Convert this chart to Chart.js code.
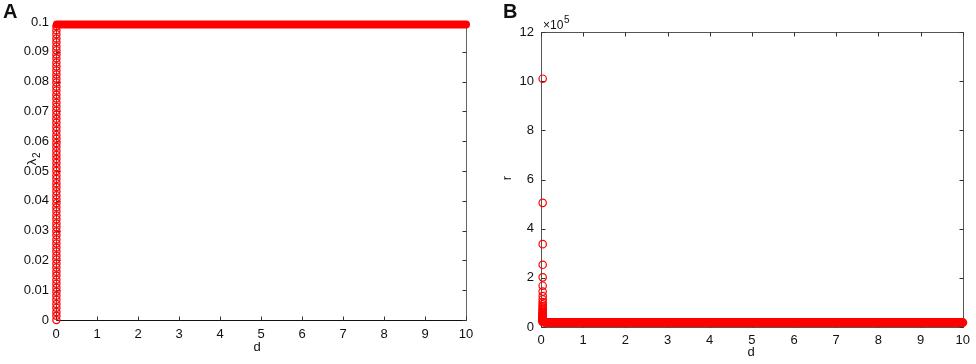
<!DOCTYPE html>
<html>
<head>
<meta charset="utf-8">
<script src="https://cdn.jsdelivr.net/npm/chart.js@4.4.1/dist/chart.umd.min.js"></script>
<style>
  html, body { margin: 0; padding: 0; background: #fff; }
  #wrap { position: relative; width: 976px; height: 364px; background: #fff; }
  canvas { position: absolute; top: 0; }
</style>
</head>
<body>
<div id="wrap">
  <canvas id="chartA" width="490" height="364" style="left:0px"></canvas>
  <canvas id="chartB" width="486" height="364" style="left:490px"></canvas>
</div>
<script>
// ---------------- DATA ----------------
// Shared x tick labels (d)
const xTickLabels = ['0','1','2','3','4','5','6','7','8','9','10'];

// Panel A: lambda_2 vs d
const yTickLabelsA = ['0','0.01','0.02','0.03','0.04','0.05','0.06','0.07','0.08','0.09','0.1'];
const stackDA = 0.01;              // d position of the stacked circles
const stackLambdaA = [
  0, 0.0014, 0.0027, 0.0041, 0.0054, 0.0068, 0.0081, 0.0095, 0.0108, 0.0122,
  0.0135, 0.0149, 0.0162, 0.0176, 0.0189, 0.0203, 0.0216, 0.0230, 0.0243, 0.0257,
  0.0270, 0.0284, 0.0297, 0.0311, 0.0324, 0.0338, 0.0351, 0.0365, 0.0378, 0.0392,
  0.0405, 0.0419, 0.0432, 0.0446, 0.0459, 0.0473, 0.0486, 0.0500, 0.0513, 0.0527,
  0.0540, 0.0554, 0.0567, 0.0581, 0.0594, 0.0608, 0.0621, 0.0635, 0.0648, 0.0662,
  0.0675, 0.0689, 0.0702, 0.0716, 0.0729, 0.0743, 0.0756, 0.0770, 0.0783, 0.0797,
  0.0810, 0.0824, 0.0837, 0.0851, 0.0864, 0.0878, 0.0891, 0.0905, 0.0918, 0.0932,
  0.0945, 0.0959, 0.0972, 0.0986
];
const plateauDA = [0.02, 10];       // dense markers along the plateau
const plateauLambdaA = [0.0992, 0.0992];

// Panel B: r (x10^5) vs d
const yTickLabelsB = ['0','2','4','6','8','10','12'];
const stackDB = 0.04;
const stackRB = [
  10.1, 5.05, 3.37, 2.53, 2.02, 1.68, 1.44, 1.26, 1.12, 1.01,
  0.92, 0.84, 0.78, 0.72, 0.67, 0.63, 0.59, 0.56, 0.53, 0.505,
  0.48, 0.46, 0.44, 0.42, 0.40, 0.39, 0.37, 0.36, 0.35, 0.34,
  0.32, 0.30, 0.28, 0.26, 0.24, 0.22, 0.20
];
const bandDB = [0.1, 10];
const bandRB = [0.18, 0.18];

// ---------------- HELPERS ----------------
const RED = '#ff0000';
const FONT = "'Liberation Sans', Arial, Helvetica, sans-serif";

function pts(xs, ys) { return ys.map((y, i) => ({ x: Array.isArray(xs) ? xs[i] : xs, y })); }

const framePlugin = {
  id: 'frame',
  beforeDatasetsDraw(chart, args, opts) {
    const { ctx, chartArea: a, scales } = chart;
    ctx.save();
    ctx.lineWidth = 1;
    const sides = opts.sides;
    const line = (x1, y1, x2, y2, c) => {
      ctx.strokeStyle = c; ctx.beginPath(); ctx.moveTo(x1, y1); ctx.lineTo(x2, y2); ctx.stroke();
    };
    const L = Math.round(a.left) + 0.5, R = Math.round(a.right) + 0.5;
    const T = Math.round(a.top) + 0.5, B = Math.round(a.bottom) + 0.5;
    if (sides.bottom) line(L, B, R, B, sides.bottom);
    if (sides.top) line(L, T, R, T, sides.top);
    if (sides.left) line(L, T, L, B, sides.left);
    if (sides.right) line(R, T, R, B, sides.right);
    const tl = opts.tickLen;
    scales.x.ticks.forEach(t => {
      const px = Math.round(scales.x.getPixelForValue(t.value)) + 0.5;
      line(px, B, px, B - tl, opts.tickColor);
      if (sides.top) line(px, T, px, T + tl, opts.tickColor);
    });
    scales.y.ticks.forEach(t => {
      const py = Math.round(scales.y.getPixelForValue(t.value)) + 0.5;
      line(L, py, L + tl, py, opts.tickColor);
      if (sides.right) line(R, py, R - tl, py, opts.tickColor);
    });
    ctx.restore();
  },
  afterDraw(chart, args, opts) {
    const { ctx } = chart;
    ctx.save();
    ctx.fillStyle = '#111';
    (opts.texts || []).forEach(t => {
      ctx.save();
      ctx.translate(t.x, t.y);
      if (t.rot) ctx.rotate(t.rot);
      ctx.font = t.font;
      ctx.textAlign = t.align || 'center';
      ctx.textBaseline = t.base || 'middle';
      ctx.fillText(t.text, 0, 0);
      if (t.sub) {
        ctx.font = t.subFont;
        ctx.textAlign = 'left';
        ctx.fillText(t.sub, t.subDx, t.subDy);
      }
      ctx.restore();
    });
    ctx.restore();
  }
};

function makeChart(id, cfg) {
  return new Chart(document.getElementById(id), {
    type: 'scatter',
    data: { datasets: cfg.datasets },
    options: {
      responsive: false,
      animation: false,
      devicePixelRatio: 1,
      layout: { padding: cfg.padding },
      plugins: {
        legend: { display: false },
        tooltip: { enabled: false },
        frame: cfg.frame
      },
      scales: {
        x: {
          type: 'linear', min: 0, max: 10,
          afterFit: s => { s.height = cfg.xHeight; },
          grid: { display: false, drawTicks: false },
          border: { display: false },
          ticks: {
            stepSize: 1, padding: cfg.xPad, color: '#111',
            font: { family: FONT, size: 13 },
            maxRotation: 0, autoSkip: false,
            callback: (v, i) => xTickLabels[i]
          }
        },
        y: {
          type: 'linear', min: 0, max: cfg.yMax,
          afterFit: s => { s.width = cfg.yWidth; },
          grid: { display: false, drawTicks: false },
          border: { display: false },
          ticks: {
            stepSize: cfg.yStep, padding: cfg.yPad, color: '#111',
            font: { family: FONT, size: 13 },
            autoSkip: false,
            callback: (v, i) => cfg.yLabels[i]
          }
        }
      }
    },
    plugins: [framePlugin]
  });
}

// ---------------- PANEL A ----------------
makeChart('chartA', {
  padding: { left: 0, top: 22, right: 24, bottom: 0 },
  xHeight: 44, yWidth: 56, xPad: 7, yPad: 7,
  yMax: 0.1, yStep: 0.01, yLabels: yTickLabelsA,
  frame: {
    sides: { bottom: '#111', left: '#555', right: '#666', top: '#666' },
    tickLen: 4, tickColor: '#333',
    texts: [
      { text: 'A', x: 3, y: 18, font: `bold 20px ${FONT}`, align: 'left', base: 'alphabetic' },
      { text: 'd', x: 257, y: 347, font: `13px ${FONT}` },
      { text: 'λ', x: 36, y: 162, rot: -Math.PI / 2, font: `13px ${FONT}`, align: 'center', base: 'alphabetic',
        sub: '2', subFont: `10px ${FONT}`, subDx: 4, subDy: 4 }
    ]
  },
  datasets: [
    {
      label: 'plateau', data: pts(plateauDA, plateauLambdaA),
      showLine: true, borderColor: RED, borderWidth: 8, borderCapStyle: 'round',
      pointRadius: 0, clip: false, order: 2
    },
    {
      label: 'stack', data: pts(stackDA, stackLambdaA),
      showLine: false, pointStyle: 'circle', pointRadius: 3.6,
      borderColor: RED, backgroundColor: 'rgba(0,0,0,0)', borderWidth: 1.3, clip: false, order: 1
    }
  ]
});

// ---------------- PANEL B ----------------
makeChart('chartB', {
  padding: { left: 0, top: 32, right: 10, bottom: 0 },
  xHeight: 37, yWidth: 51, xPad: 6, yPad: 7,
  yMax: 12, yStep: 2, yLabels: yTickLabelsB,
  frame: {
    sides: { bottom: '#555', left: '#555', right: '#555', top: '#555' },
    tickLen: 4, tickColor: '#333',
    texts: [
      { text: 'B', x: 13, y: 18, font: `bold 20px ${FONT}`, align: 'left', base: 'alphabetic' },
      { text: 'd', x: 261, y: 352, font: `13px ${FONT}` },
      { text: 'r', x: 21, y: 178, rot: -Math.PI / 2, font: `13px ${FONT}`, base: 'alphabetic' },
      { text: '×10', x: 53, y: 29, font: `12px ${FONT}`, align: 'left', base: 'alphabetic',
        sub: '5', subFont: `10px ${FONT}`, subDx: 21, subDy: -6 }
    ]
  },
  datasets: [
    {
      label: 'band', data: pts(bandDB, bandRB),
      showLine: true, borderColor: RED, borderWidth: 9, borderCapStyle: 'round',
      pointRadius: 0, clip: false, order: 2
    },
    {
      label: 'stack', data: pts(stackDB, stackRB),
      showLine: false, pointStyle: 'circle', pointRadius: 3.7,
      borderColor: RED, backgroundColor: 'rgba(0,0,0,0)', borderWidth: 1.2, clip: false, order: 1
    }
  ]
});
</script>
</body>
</html>
